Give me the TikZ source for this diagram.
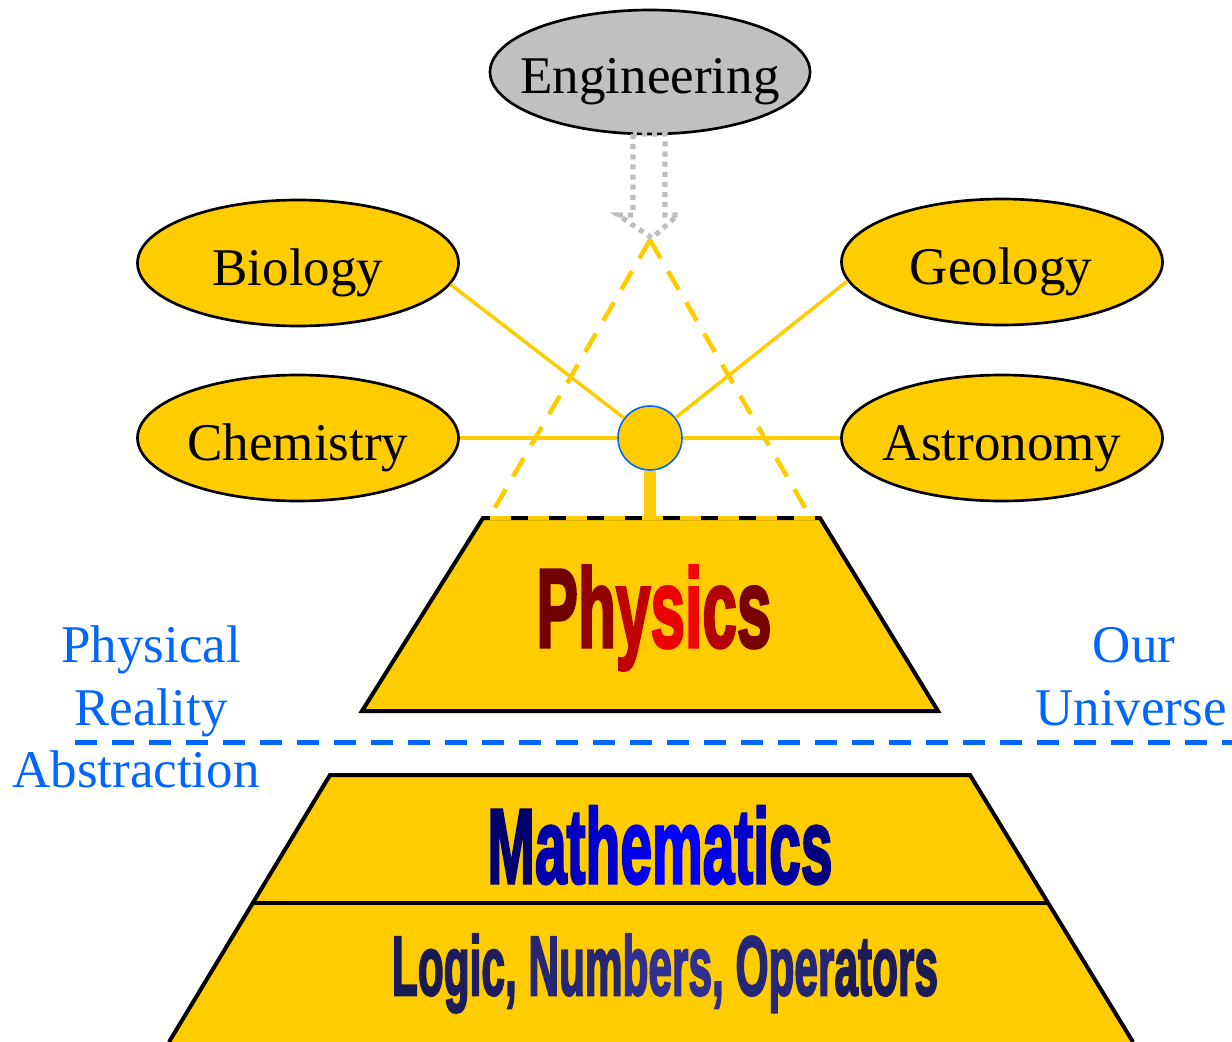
\documentclass[tikz,border=0pt]{standalone}
\usepackage{fontspec}
\setmainfont{Liberation Serif}
\newfontfamily\impactfont{Liberation Sans}[FakeBold=3]
\usetikzlibrary{shapes.geometric}
\definecolor{gold}{RGB}{255,204,0}
\definecolor{skyblue}{RGB}{0,102,255}
\definecolor{enggray}{RGB}{192,192,192}
\definecolor{dotgray}{RGB}{190,190,190}
\begin{document}
\begin{tikzpicture}[x=0.75pt,y=-0.75pt,
  field/.style={ellipse, draw=black, line width=2pt, fill=gold, minimum width=240.75pt, minimum height=94.5pt, inner sep=0pt},
  fieldtext/.style={font=\fontsize{39.75}{48}\selectfont, anchor=base, inner sep=0pt},
  sidetext/.style={fieldtext, text=skyblue},
  link/.style={draw=gold, line width=2.6pt},
  goldash/.style={draw=gold, line width=3.4pt, dash pattern=on 16pt off 11pt},
  edge/.style={draw=black, line width=3pt, line join=miter},
  bigtext/.style={anchor=base, inner sep=0pt}]
\useasboundingbox (0,0) rectangle (1232,1042);

% named points
\coordinate (apex) at (650,240);
\coordinate (dl) at (489,518);
\coordinate (dr) at (811,518);
\coordinate (ptl) at (483,518);
\coordinate (ptr) at (820,518);
\coordinate (pbr) at (938,711);
\coordinate (pbl) at (362,711);
\coordinate (bl) at (75,742.5);
\coordinate (br) at (1232,742.5);
\coordinate (mtl) at (330,775);
\coordinate (mtr) at (970,775);
\coordinate (mml) at (253,903);
\coordinate (mmr) at (1048,903);
\coordinate (mbl) at (169,1042);
\coordinate (mbr) at (1133,1042);

% dashed gold cone
\draw[goldash] (apex) -- (dl);
\draw[goldash] (apex) -- (dr);

% fields
\node[field, fill=enggray, minimum height=93pt, minimum width=240pt] (eng) at (650,72) {};
\node[fieldtext] (engt) at (650,93) {Engineering};
\node[field] (bio) at (298,263) {};
\node[fieldtext] (biot) at (298,285) {Biology};
\node[field] (geo) at (1002,262) {};
\node[fieldtext] (geot) at (1001,284) {Geology};
\node[field] (chem) at (298,438) {};
\node[fieldtext] (chemt) at (298,460) {Chemistry};
\node[field] (astro) at (1002,438) {};
\node[fieldtext] (astrot) at (1002,460) {Astronomy};

% engineering hollow dotted arrow
\draw[dotgray, line width=3.8pt, dash pattern=on 3.8pt off 3.8pt]
  (633,134) -- (633,215) -- (618,215) -- (652,238) -- (678,215) -- (665,215) -- (665,134) -- cycle;

% hub
\node[circle, fill=gold, draw=skyblue, line width=1.2pt, minimum size=48pt, inner sep=0pt] (hub) at (650,438) {};
\draw[link] (bio.-8) -- (hub);
\draw[link] (geo.187) -- (hub);
\draw[link] (chem.east) -- (hub);
\draw[link] (astro.west) -- (hub);

% physics trapezoid
\fill[gold] (ptl) -- (ptr) -- (pbr) -- (pbl) -- cycle;
\draw[edge] (ptl) -- (ptr) -- (pbr) -- (pbl) -- cycle;
\draw[gold, line width=3.2pt, dash pattern=on 15.75pt off 12.75pt] (490,518) -- (816,518);
\draw[gold, line width=9.5pt] (hub.south) -- (hub.south |- ptl);

\node[bigtext] (phys) at (654,647) {\resizebox{176.25pt}{\height}{\impactfont\bfseries\fontsize{84}{84}\selectfont
  \textcolor[RGB]{112,0,0}{P}\textcolor[RGB]{145,0,0}{h}\textcolor[RGB]{190,0,0}{y}\textcolor[RGB]{235,0,0}{s}\textcolor[RGB]{250,0,0}{i}\textcolor[RGB]{180,0,0}{c}\textcolor[RGB]{120,0,0}{s}}};

% boundary line and side labels
\draw[skyblue, line width=3.2pt, dash pattern=on 16.5pt off 11.25pt] (bl) -- (br);
\node[sidetext] (phl) at (151,662) {Physical};
\node[sidetext] (rel) at (151,725) {Reality};
\node[sidetext] (abl) at (136,787) {Abstraction};
\node[sidetext] (ourl) at (1134,662) {Our};
\node[sidetext] (unil) at (1131,725) {Universe};

% mathematics block
\fill[gold] (mtl) -- (mtr) -- (mbr) -- (mbl) -- cycle;
\draw[edge] (mbl) -- (mtl) -- (mtr) -- (mbr);
\draw[edge] (mml) -- (mmr);

\node[bigtext] (math) at (660,883) {\resizebox{258.75pt}{\height}{\impactfont\bfseries\fontsize{79.5}{80}\selectfont
  \textcolor[RGB]{0,0,110}{M}\textcolor[RGB]{0,0,170}{a}\textcolor[RGB]{0,0,190}{t}\textcolor[RGB]{0,0,205}{h}\textcolor[RGB]{0,0,228}{e}\textcolor[RGB]{0,0,255}{m}\textcolor[RGB]{0,0,232}{a}\textcolor[RGB]{0,0,200}{t}\textcolor[RGB]{0,0,180}{i}\textcolor[RGB]{0,0,160}{c}\textcolor[RGB]{0,0,128}{s}}};

\node[bigtext] (logic) at (665,995) {\resizebox{409.5pt}{\height}{\impactfont\bfseries\fontsize{63}{64}\selectfont
  \textcolor[RGB]{26,26,82}{Lo}\textcolor[RGB]{30,30,95}{gic,} \textcolor[RGB]{38,38,115}{Num}\textcolor[RGB]{48,48,145}{bers,} \textcolor[RGB]{38,38,118}{Oper}\textcolor[RGB]{28,28,88}{ators}}};
\end{tikzpicture}
\end{document}
